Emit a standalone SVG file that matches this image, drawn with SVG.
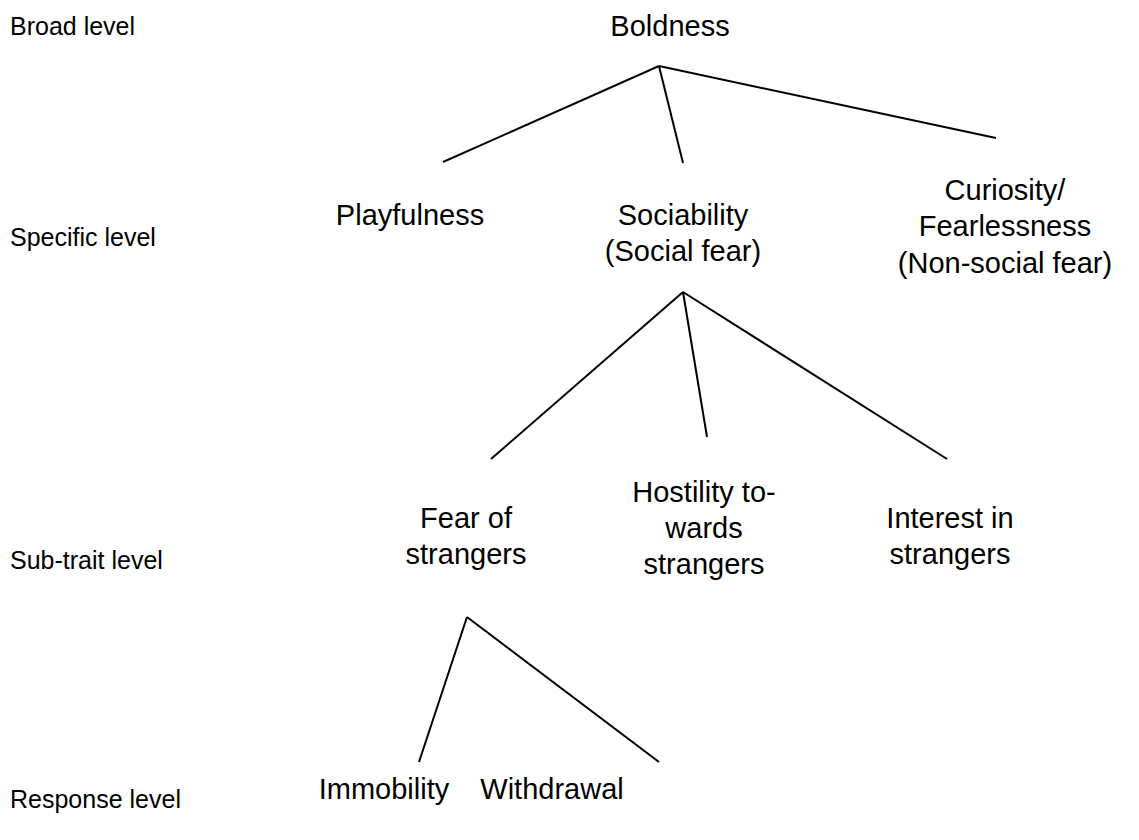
<svg xmlns="http://www.w3.org/2000/svg" width="1139" height="840" viewBox="0 0 1139 840">
<style>
.lvl{font-family:"Liberation Sans",Arial,sans-serif;font-size:25px;fill:#000}
.lbl{font-family:"Liberation Sans",Arial,sans-serif;font-size:29px;fill:#000;text-anchor:middle}
.ln{stroke:#000;stroke-width:2;fill:none}
</style>
<rect width="1139" height="840" fill="#fff"/>
<g id="levels">
<text class="lvl" x="10" y="35">Broad level</text>
<text class="lvl" x="10" y="246">Specific level</text>
<text class="lvl" x="10" y="569">Sub-trait level</text>
<text class="lvl" x="10" y="808">Response level</text>
</g>
<g id="boldness"><text class="lbl" x="670" y="36">Boldness</text></g>
<g id="playfulness"><text class="lbl" x="410" y="225">Playfulness</text></g>
<g id="sociability"><text class="lbl" x="683" y="225">Sociability</text><text class="lbl" x="683" y="261">(Social fear)</text></g>
<g id="curiosity"><text class="lbl" x="1005" y="200">Curiosity/</text><text class="lbl" x="1005" y="236">Fearlessness</text><text class="lbl" x="1005" y="273">(Non-social fear)</text></g>
<g id="fear"><text class="lbl" x="466" y="528">Fear of</text><text class="lbl" x="466" y="564">strangers</text></g>
<g id="hostility"><text class="lbl" x="704" y="502">Hostility to-</text><text class="lbl" x="704" y="538">wards</text><text class="lbl" x="704" y="574">strangers</text></g>
<g id="interest"><text class="lbl" x="950" y="528">Interest in</text><text class="lbl" x="950" y="564">strangers</text></g>
<g id="immobility"><text class="lbl" x="384" y="799">Immobility</text></g>
<g id="withdrawal"><text class="lbl" x="552" y="799">Withdrawal</text></g>
<g id="connectors">
<line class="ln" x1="659" y1="66" x2="443" y2="162"/>
<line class="ln" x1="659" y1="66" x2="683" y2="163"/>
<line class="ln" x1="659" y1="66" x2="996" y2="138"/>
<line class="ln" x1="683" y1="292" x2="491" y2="459"/>
<line class="ln" x1="683" y1="292" x2="707" y2="437"/>
<line class="ln" x1="683" y1="292" x2="947" y2="459"/>
<line class="ln" x1="467" y1="617" x2="419" y2="762"/>
<line class="ln" x1="467" y1="617" x2="659" y2="762"/>
</g>
</svg>
